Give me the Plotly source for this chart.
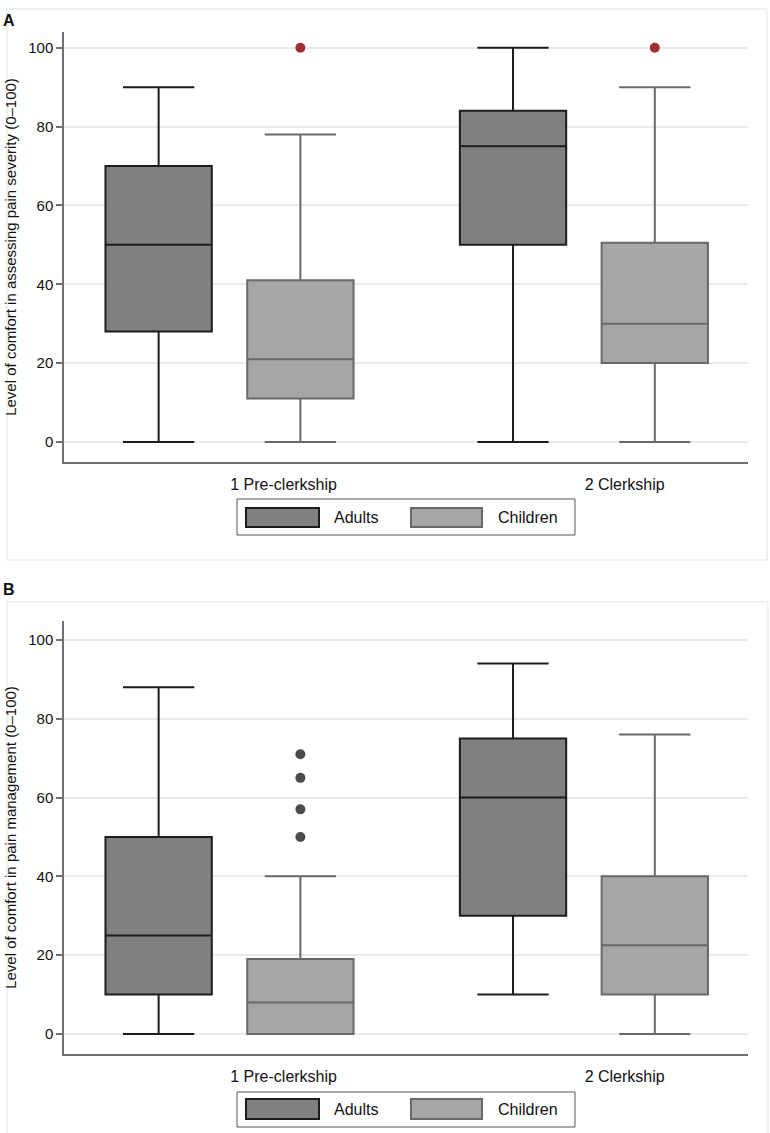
import plotly.graph_objects as go

W, H = 770, 1133

# ---------------- data ----------------
groups = ["1 Pre-clerkship", "2 Clerkship"]
series = ["Adults", "Children"]

# Panel A: comfort in assessing pain severity
a_adults_low = [0, 0]
a_adults_q1 = [28, 50]
a_adults_med = [50, 75]
a_adults_q3 = [70, 84]
a_adults_high = [90, 100]
a_adults_out = [[], []]

a_child_low = [0, 0]
a_child_q1 = [11, 20]
a_child_med = [21, 30]
a_child_q3 = [41, 50.5]
a_child_high = [78, 90]
a_child_out = [[100], [100]]

# Panel B: comfort in pain management
b_adults_low = [0, 10]
b_adults_q1 = [10, 30]
b_adults_med = [25, 60]
b_adults_q3 = [50, 75]
b_adults_high = [88, 94]
b_adults_out = [[], []]

b_child_low = [0, 0]
b_child_q1 = [0, 10]
b_child_med = [8, 22.5]
b_child_q3 = [19, 40]
b_child_high = [40, 76]
b_child_out = [[50, 57, 65, 71], []]

y_ticks = [0, 20, 40, 60, 80, 100]
title_a = "Level of comfort in assessing pain severity (0\u2013100)"
title_b = "Level of comfort in pain management (0\u2013100)"

# ---------------- styles ----------------
FONT = "Liberation Sans, Arial, sans-serif"
ADULT_FILL, ADULT_LINE = "#808080", "#1c1c1c"
CHILD_FILL, CHILD_LINE = "#a6a6a6", "#686868"
AXIS_COL = "#707070"
GRID_COL = "#e6ecee"
OFFSET = {"Adults": -0.2, "Children": 0.2}
BOX_W = 0.3


def px_x(x):
    return x / W


def px_y(y):
    return 1 - y / H


fig = go.Figure()

panels = [
    ("x", "y", {"Adults": (a_adults_low, a_adults_q1, a_adults_med, a_adults_q3, a_adults_high, a_adults_out),
                "Children": (a_child_low, a_child_q1, a_child_med, a_child_q3, a_child_high, a_child_out)},
     "#9e2f33"),
    ("x2", "y2", {"Adults": (b_adults_low, b_adults_q1, b_adults_med, b_adults_q3, b_adults_high, b_adults_out),
                  "Children": (b_child_low, b_child_q1, b_child_med, b_child_q3, b_child_high, b_child_out)},
     "#4b4b4b"),
]

for xa, ya, data, out_col in panels:
    for s in series:
        low, q1, med, q3, high, outs = data[s]
        pos = [i + OFFSET[s] for i in range(len(groups))]
        fill = ADULT_FILL if s == "Adults" else CHILD_FILL
        line = ADULT_LINE if s == "Adults" else CHILD_LINE
        fig.add_trace(go.Box(
            x=pos, q1=q1, median=med, q3=q3, lowerfence=low, upperfence=high,
            width=BOX_W, whiskerwidth=0.67, boxpoints=False,
            fillcolor=fill, line=dict(color=line, width=2),
            name=s, showlegend=False, xaxis=xa, yaxis=ya,
        ))
        ox, oy = [], []
        for i, vals in enumerate(outs):
            for v in vals:
                ox.append(i + OFFSET[s])
                oy.append(v)
        if ox:
            fig.add_trace(go.Scatter(
                x=ox, y=oy, mode="markers",
                marker=dict(color=out_col, size=10),
                showlegend=False, xaxis=xa, yaxis=ya, name=s + " outliers",
            ))

x_dom = [px_x(64), px_x(748)]
x_rng = [-0.467, 1.463]

xcommon = dict(
    domain=x_dom, range=x_rng, tickvals=list(range(len(groups))), ticktext=groups,
    ticks="", showgrid=False, zeroline=False, showline=True,
    linecolor=AXIS_COL, linewidth=1.5,
    tickfont=dict(family=FONT, size=16, color="#111"),
    ticklabelposition="outside right", ticklabelstandoff=7,
)
ycommon = dict(
    tickvals=y_ticks, showgrid=True, gridcolor=GRID_COL, gridwidth=1.5,
    zeroline=False, showline=True, linecolor=AXIS_COL, linewidth=1.5,
    ticks="outside", ticklen=6, tickcolor=AXIS_COL, tickwidth=1.5,
    tickfont=dict(family=FONT, size=15, color="#111"),
)

fig.update_layout(
    width=W, height=H, margin=dict(l=0, r=0, t=0, b=0),
    paper_bgcolor="white", plot_bgcolor="white",
    font=dict(family=FONT, color="#111"),
    xaxis=dict(anchor="y", **xcommon),
    xaxis2=dict(anchor="y2", **xcommon),
    yaxis=dict(anchor="x", domain=[px_y(462), px_y(32)], range=[-5.1, 104.0],
               title=dict(text=title_a, font=dict(family=FONT, size=15, color="#111"), standoff=8),
               **ycommon),
    yaxis2=dict(anchor="x2", domain=[px_y(1054), px_y(621)], range=[-5.08, 104.8],
                title=dict(text=title_b, font=dict(family=FONT, size=15, color="#111"), standoff=8),
                **ycommon),
)

shapes = []
annotations = []

# panel frames
shapes.append(dict(type="rect", xref="paper", yref="paper",
                   x0=px_x(7), x1=px_x(767), y0=px_y(560), y1=px_y(9),
                   line=dict(color="#e9eeee", width=1.5)))
shapes.append(dict(type="rect", xref="paper", yref="paper",
                   x0=px_x(7), x1=px_x(768), y0=px_y(1140), y1=px_y(602),
                   line=dict(color="#e9eeee", width=1.5)))

# panel letters
annotations.append(dict(text="<b>A</b>", x=px_x(1), y=px_y(20), xref="paper", yref="paper",
                        xanchor="left", yanchor="middle", showarrow=False,
                        font=dict(family=FONT, size=16, color="#111")))
annotations.append(dict(text="<b>B</b>", x=px_x(1), y=px_y(589), xref="paper", yref="paper",
                        xanchor="left", yanchor="middle", showarrow=False,
                        font=dict(family=FONT, size=16, color="#111")))

# legends (boxed, below each panel)
for top, bot, sw_top, sw_bot in [(499, 535, 508, 527), (1092, 1127, 1099, 1119)]:
    shapes.append(dict(type="rect", xref="paper", yref="paper",
                       x0=px_x(237), x1=px_x(575), y0=px_y(bot), y1=px_y(top),
                       line=dict(color="#555555", width=1), fillcolor="white"))
    mid = (sw_top + sw_bot) / 2
    for s, (x0, x1, tx) in zip(series, [(246, 319, 332), (411, 482, 496)]):
        fill = ADULT_FILL if s == "Adults" else CHILD_FILL
        line = ADULT_LINE if s == "Adults" else CHILD_LINE
        shapes.append(dict(type="rect", xref="paper", yref="paper",
                           x0=px_x(x0), x1=px_x(x1), y0=px_y(sw_bot), y1=px_y(sw_top),
                           line=dict(color=line, width=2), fillcolor=fill))
        annotations.append(dict(text=s, x=px_x(tx), y=px_y(mid), xref="paper", yref="paper",
                                xanchor="left", yanchor="middle", showarrow=False,
                                font=dict(family=FONT, size=16, color="#111")))

fig.update_layout(shapes=shapes, annotations=annotations)

fig.write_html("out.html", config={"displayModeBar": False},
               post_script="document.body.style.margin='0';")
